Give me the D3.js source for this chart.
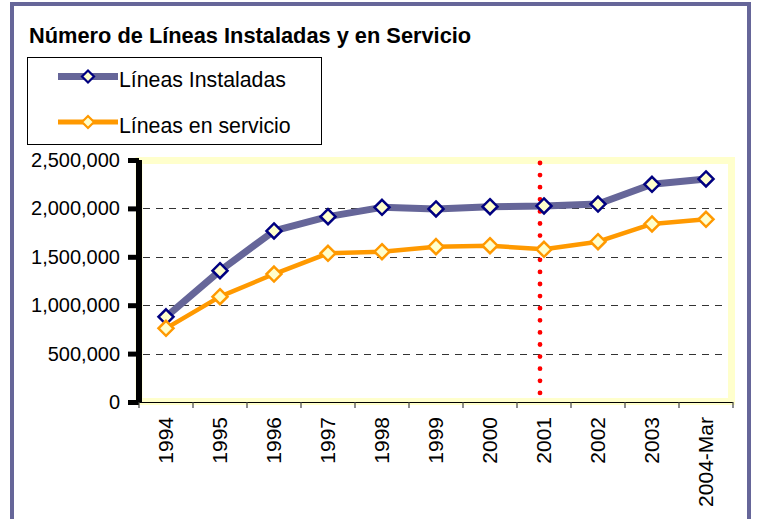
<!DOCTYPE html>
<html><head><meta charset="utf-8">
<script src="https://cdn.jsdelivr.net/npm/d3@7"></script>
<style>
html,body{margin:0;padding:0;background:#fff;}
text{font-family:"Liberation Sans",Arial,sans-serif;fill:#000;}
</style></head>
<body>
<svg id="c" width="757" height="519"></svg>
<script>
const categories = ["1994","1995","1996","1997","1998","1999","2000","2001","2002","2003","2004-Mar"];
const instaladas = [880000,1356000,1767000,1915000,2011000,1994000,2018000,2025000,2045000,2249000,2304000];
const enServicio = [761000,1088000,1322000,1536000,1553000,1605000,1615000,1577000,1656000,1839000,1887000];
const yTicks = [0,500000,1000000,1500000,2000000,2500000];
const title = "Número de Líneas Instaladas y en Servicio";
const seriesNames = ["Líneas Instaladas","Líneas en servicio"];
const markerYear = "2001";

const FONT = "'Liberation Sans', Arial, sans-serif";
const svg = d3.select("#c");
const purple = "#666699", orange = "#FF9900", navy = "#000080", lightY = "#FFFFCC";

// outer frame
svg.append("rect").attr("x",12).attr("y",4).attr("width",737).attr("height",600)
  .attr("fill","#fff").attr("stroke",purple).attr("stroke-width",4);

svg.append("text").attr("x",29).attr("y",43).attr("font-size",21.8).attr("font-weight","bold")
  .attr("font-family",FONT).text(title);

const x = d3.scaleBand().domain(categories).range([139,733]).padding(0);
const y = d3.scaleLinear().domain([0,2500000]).range([402,160]);
const cx = d => x(d) + x.bandwidth()/2;

// plot area with yellow border
svg.append("rect").attr("x",139).attr("y",160.5).attr("width",592.5).attr("height",241)
  .attr("fill","#fff").attr("stroke",lightY).attr("stroke-width",7);

// grid
svg.append("g").selectAll("line").data(yTicks.filter(t=>t>0 && t<2500000)).join("line")
  .attr("x1",143).attr("x2",728).attr("y1",d=>Math.round(y(d))+0.5).attr("y2",d=>Math.round(y(d))+0.5)
  .attr("stroke","#333").attr("stroke-width",1).attr("stroke-dasharray","7,6");

// y axis
const yAxis = svg.append("g").attr("transform","translate(139,0)")
  .call(d3.axisLeft(y).tickValues(yTicks).tickFormat(d3.format(",")).tickSize(11).tickPadding(8));
yAxis.attr("font-family",FONT);
yAxis.select(".domain").attr("stroke","#000").attr("stroke-width",6).attr("d","M0,160V402");
yAxis.selectAll(".tick line").attr("stroke","#000").attr("stroke-width",5);
yAxis.selectAll(".tick text").attr("font-size",20).attr("font-family",FONT).attr("fill","#000");

// x axis
const xAxis = svg.append("g").attr("transform","translate(0,402)")
  .call(d3.axisBottom(x).tickSize(0).tickPadding(0));
xAxis.select(".domain").attr("stroke","#000").attr("stroke-width",1.2).attr("d","M139,0.5H733");
xAxis.selectAll(".tick text").remove();
svg.append("g").selectAll("line").data(categories.concat(["__end"])).join("line")
  .attr("x1",(d,i)=> i<categories.length ? x(d) : x(categories[categories.length-1])+x.bandwidth())
  .attr("x2",(d,i)=> i<categories.length ? x(d) : x(categories[categories.length-1])+x.bandwidth())
  .attr("y1",402).attr("y2",408).attr("stroke","#444").attr("stroke-width",1.2);
svg.append("g").selectAll("text").data(categories).join("text")
  .attr("transform",d=>`translate(${cx(d)+7},417) rotate(-90)`)
  .attr("text-anchor","end").attr("font-size",21).attr("font-family",FONT).text(d=>d);

// red dotted line
const rx = cx(markerYear) - 4;
svg.append("line").attr("x1",rx).attr("x2",rx).attr("y1",163).attr("y2",394)
  .attr("stroke","#FF0000").attr("stroke-width",4.8).attr("stroke-linecap","round")
  .attr("stroke-dasharray","0,12.1");

const line = d3.line().x((d,i)=>cx(categories[i])).y(d=>y(d));
const diamond = (s) => `M0,${-s}L${s},0L0,${s}L${-s},0Z`;

function drawSeries(vals, col, lw, mstroke){
  svg.append("path").datum(vals).attr("d",line).attr("fill","none")
    .attr("stroke",col).attr("stroke-width",lw).attr("stroke-linejoin","round");
  svg.append("g").selectAll("path").data(vals).join("path")
    .attr("transform",(d,i)=>`translate(${cx(categories[i])},${y(d)})`)
    .attr("d",diamond(7.5)).attr("fill",lightY).attr("stroke",mstroke).attr("stroke-width",2.5);
}
drawSeries(instaladas, purple, 7, navy);
drawSeries(enServicio, orange, 4.5, orange);

// legend
const lg = svg.append("g");
lg.append("rect").attr("x",27.5).attr("y",57.5).attr("width",294).attr("height",87)
  .attr("fill","#fff").attr("stroke","#000").attr("stroke-width",1);
const legendItems = [
  {name:seriesNames[0], col:purple, lw:7, ms:navy, ly:76.5},
  {name:seriesNames[1], col:orange, lw:5, ms:orange, ly:122}
];
legendItems.forEach(it=>{
  lg.append("line").attr("x1",58).attr("x2",118).attr("y1",it.ly).attr("y2",it.ly)
    .attr("stroke",it.col).attr("stroke-width",it.lw);
  lg.append("path").attr("transform",`translate(88,${it.ly})`).attr("d",diamond(6))
    .attr("fill",lightY).attr("stroke",it.ms).attr("stroke-width",2.2);
  lg.append("text").attr("x",119).attr("y",it.ly+10.5).attr("font-size",21.3).attr("font-family",FONT).text(it.name);
});
</script>
</body></html>
